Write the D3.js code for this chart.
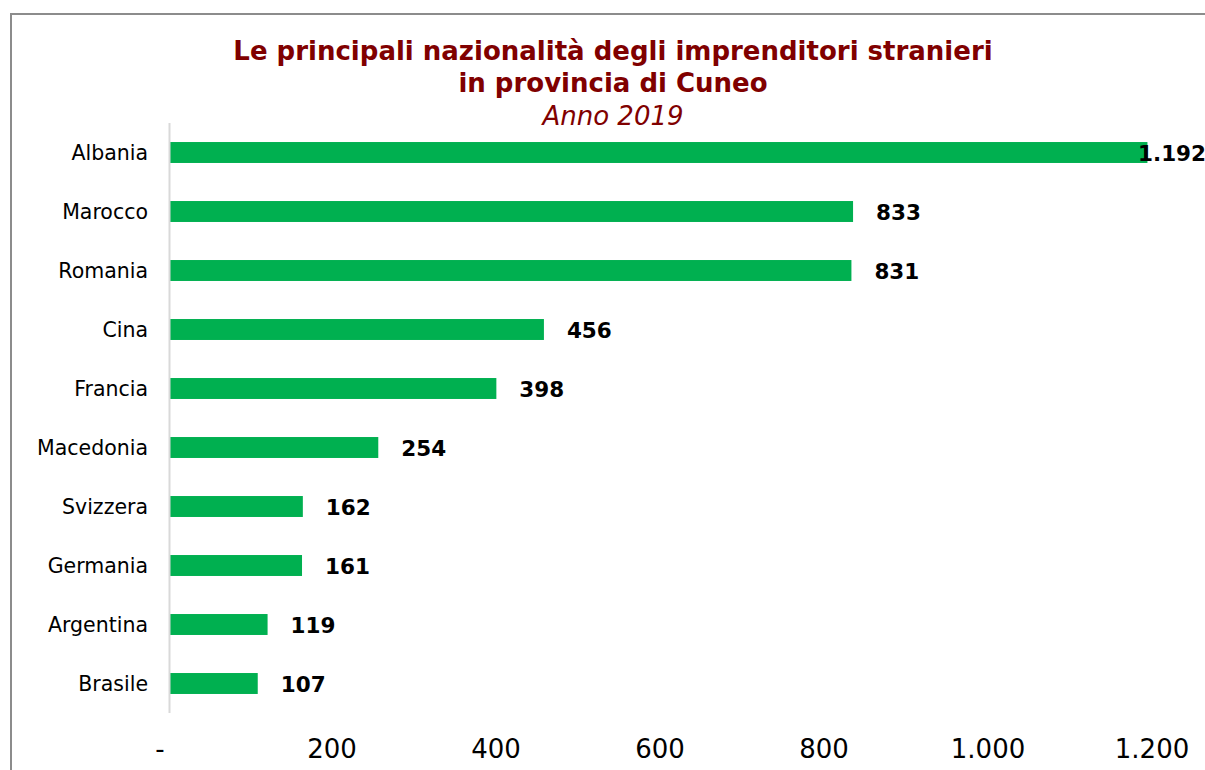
<!DOCTYPE html>
<html>
<head>
<meta charset="utf-8">
<script src="https://cdn.jsdelivr.net/npm/d3@7"></script>
<style>
  html, body { margin: 0; padding: 0; background: #fff; overflow: hidden; }
  svg { display: block; font-family: "DejaVu Sans", Verdana, sans-serif; }
</style>
</head>
<body>
<div id="chart"></div>
<script>
const countries = ['Albania', 'Marocco', 'Romania', 'Cina', 'Francia', 'Macedonia', 'Svizzera', 'Germania', 'Argentina', 'Brasile']
const values = [1192, 833, 831, 456, 398, 254, 162, 161, 119, 107]
const xTicks = [0, 200, 400, 600, 800, 1000, 1200]
const titleLines = ['Le principali nazionalità degli imprenditori stranieri', 'in provincia di Cuneo']
const subtitle = 'Anno 2019'

const width = 1205, height = 770
const fmt = d3.formatLocale({ decimal: ',', thousands: '.', grouping: [3], currency: ['€', ''] }).format(',d')

const svg = d3.select('#chart').append('svg')
	.attr('width', width)
	.attr('height', height)

// chart frame
svg.append('rect')
	.attr('x', 11).attr('y', 14)
	.attr('width', width + 20).attr('height', height + 20)
	.attr('fill', 'none')
	.attr('stroke', '#8c8c8c')
	.attr('stroke-width', 2)

// titles
const title = svg.append('text')
	.attr('text-anchor', 'middle')
	.attr('fill', '#800000')
	.attr('font-weight', 'bold')
	.attr('font-size', '26px')
title.selectAll('tspan')
	.data(titleLines)
	.enter().append('tspan')
		.attr('x', 613)
		.attr('y', (d, i) => 60 + i * 32)
		.text(d => d)

svg.append('text')
	.attr('x', 613).attr('y', 125)
	.attr('text-anchor', 'middle')
	.attr('fill', '#800000')
	.attr('font-style', 'italic')
	.attr('font-size', '26px')
	.text(subtitle)

const x = d3.scaleLinear()
	.domain([0, 1200])
	.range([170, 1154])

const y = d3.scaleBand()
	.domain(countries)
	.range([123, 713])
	.paddingInner(0.645)
	.paddingOuter(0.3225)

const data = countries.map((c, i) => ({ name: c, value: values[i] }))

// bars
svg.selectAll('.bar')
	.data(data)
	.enter().append('rect')
		.attr('class', 'bar')
		.attr('x', x(0))
		.attr('y', d => y(d.name))
		.attr('width', d => x(d.value) - x(0))
		.attr('height', y.bandwidth())
		.attr('fill', '#00b050')

// vertical axis line
svg.append('line')
	.attr('x1', 169.5).attr('x2', 169.5)
	.attr('y1', 123).attr('y2', 713)
	.attr('stroke', '#d9d9d9')
	.attr('stroke-width', 2)

// category labels
svg.selectAll('.cat')
	.data(data)
	.enter().append('text')
		.attr('class', 'cat')
		.attr('x', 148)
		.attr('y', d => y(d.name) + y.bandwidth() / 2)
		.attr('dy', '0.35em')
		.attr('text-anchor', 'end')
		.attr('font-size', '20.5px')
		.attr('fill', '#000')
		.text(d => d.name)

// value labels (pushed back inside when they would run past the edge)
svg.selectAll('.val')
	.data(data)
	.enter().append('text')
		.attr('class', 'val')
		.attr('x', d => Math.min(x(d.value) + 23, 1138))
		.attr('y', d => y(d.name) + y.bandwidth() / 2)
		.attr('dy', '0.38em')
		.attr('font-size', '21.5px')
		.attr('font-weight', 'bold')
		.attr('fill', '#000')
		.text(d => fmt(d.value))

// x tick labels
svg.selectAll('.tick')
	.data(xTicks)
	.enter().append('text')
		.attr('class', 'tick')
		.attr('x', d => d === 0 ? x(d) - 10 : x(d) - 2)
		.attr('y', 758)
		.attr('text-anchor', 'middle')
		.attr('font-size', '26px')
		.attr('fill', '#000')
		.text(d => d === 0 ? '-' : fmt(d))
</script>
</body>
</html>
